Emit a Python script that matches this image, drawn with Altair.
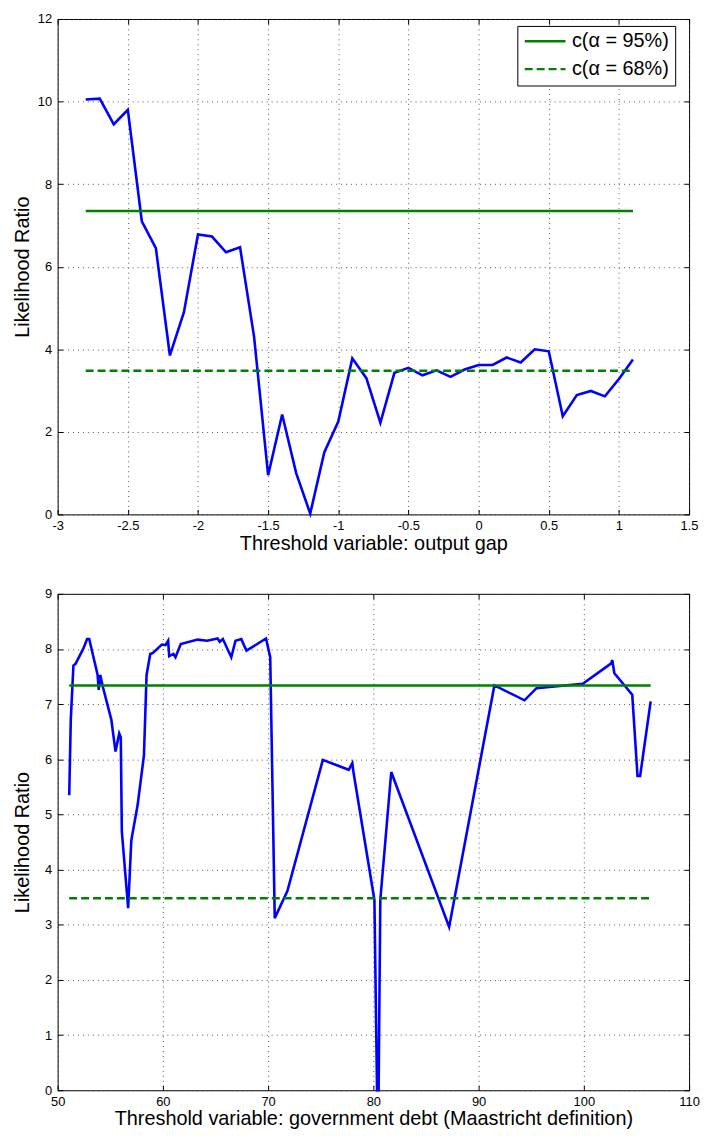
import altair as alt
import pandas as pd

# ---------------- data ----------------
gap_x = [-2.8, -2.7, -2.6, -2.5, -2.4, -2.3, -2.2, -2.1, -2.0, -1.9,
         -1.8, -1.7, -1.6, -1.5, -1.4, -1.3, -1.2, -1.1, -1.0, -0.9,
         -0.8, -0.7, -0.6, -0.5, -0.4, -0.3, -0.2, -0.1, 0.0, 0.1,
         0.2, 0.3, 0.4, 0.5, 0.6, 0.7, 0.8, 0.9, 1.0, 1.1]
gap_lr = [10.05, 10.07, 9.45, 9.8, 7.1, 6.45, 3.85, 4.9, 6.78, 6.73,
          6.35, 6.47, 4.3, 0.95, 2.42, 1.0, 0.02, 1.5, 2.25, 3.78,
          3.3, 2.22, 3.43, 3.55, 3.37, 3.49, 3.33, 3.51, 3.62, 3.62,
          3.8, 3.68, 4.0, 3.95, 2.38, 2.89, 2.99, 2.86, 3.28, 3.75]

debt_x = [51.1, 51.25, 51.5, 51.7, 52.45, 52.8, 53.0, 53.8, 53.9, 54.05,
          54.3, 55.1, 55.5, 55.85, 56.0, 56.1, 56.7, 57.0, 57.6, 58.2,
          58.45, 58.8, 59.05, 59.9, 60.25, 60.5, 60.6, 61.0, 61.2, 61.7,
          63.3, 64.2, 65.2, 65.4, 65.7, 66.5, 66.9, 67.45, 67.7, 67.95,
          69.8, 70.2, 70.63, 71.83, 75.2, 77.66, 78.0, 78.1, 80.1, 80.35,
          80.5, 80.66, 81.7, 87.2, 91.5, 94.36, 95.5, 99.9, 102.6, 102.7,
          102.9, 104.6, 105.1, 105.35, 106.35]
debt_lr = [5.35, 6.72, 7.7, 7.73, 8.01, 8.18, 8.18, 7.53, 7.26, 7.53,
           7.31, 6.72, 6.14, 6.47, 6.4, 4.69, 3.3, 4.53, 5.17, 6.07,
           7.53, 7.91, 7.93, 8.08, 8.07, 8.15, 7.87, 7.91, 7.85, 8.09,
           8.17, 8.15, 8.19, 8.13, 8.18, 7.85, 8.15, 8.18, 8.07, 7.97,
           8.19, 7.85, 3.12, 3.61, 5.99, 5.81, 5.93, 5.78, 3.45, 0.0,
           0.0, 3.45, 5.77, 2.96, 7.34, 7.07, 7.29, 7.37, 7.74, 7.8,
           7.56, 7.17, 5.7, 5.7, 7.05]

crit_labels = ["c(\u03b1 = 95%)", "c(\u03b1 = 68%)"]
gap_crit = [7.35, 3.48]
gap_span = [-2.8, 1.1]
debt_crit = [7.34, 3.48]
debt_span = [51.1, 106.35]

gap_xticks = [-3, -2.5, -2, -1.5, -1, -0.5, 0, 0.5, 1, 1.5]
gap_yticks = [0, 2, 4, 6, 8, 10, 12]
debt_xticks = [50, 60, 70, 80, 90, 100, 110]
debt_yticks = [0, 1, 2, 3, 4, 5, 6, 7, 8, 9]

FONT = "Liberation Sans"
BLUE = "#0000FF"
GREEN = "#008000"


def panel(xs, ys, crit, span, xticks, yticks, xtitle, w, h, ypad, legend):
    df = pd.DataFrame({"x": xs, "lr": ys})
    rows = []
    for lab, c in zip(crit_labels, crit):
        for sx in span:
            rows.append({"label": lab, "x": sx, "c": c})
    cdf = pd.DataFrame(rows)

    xscale = alt.Scale(domain=[xticks[0], xticks[-1]], nice=False, zero=False)
    yscale = alt.Scale(domain=[yticks[0], yticks[-1]], nice=False, zero=False)

    line = alt.Chart(df).mark_line(color=BLUE, strokeWidth=2.6).encode(
        x=alt.X("x:Q", scale=xscale,
                axis=alt.Axis(orient="bottom", values=xticks, title=xtitle, grid=True,
                              domain=False, tickSize=5, offset=-5, labelPadding=5,
                              labelFlush=False, titlePadding=1,
                              labelExpr="'' + datum.value")),
        y=alt.Y("lr:Q", scale=yscale,
                axis=alt.Axis(orient="left", values=yticks, title="Likelihood Ratio",
                              grid=True, domain=False, tickSize=5, offset=-5,
                              labelPadding=6, labelFlush=False, titlePadding=ypad,
                              labelExpr="'' + datum.value")),
    )

    dash_scale = alt.Scale(domain=crit_labels, range=[[1, 0], [8, 4]])
    if legend:
        leg = alt.Legend(title=None, orient="none", legendX=463, legendY=7,
                         symbolType="stroke", symbolSize=1681, symbolStrokeWidth=2.5,
                         labelFont=FONT, labelFontSize=20, labelColor="black",
                         labelOffset=5, padding=6, strokeColor="black",
                         fillColor="white", clipHeight=19, rowPadding=7,
                         labelLimit=300)
        color = alt.Color("label:N",
                          scale=alt.Scale(domain=crit_labels, range=[GREEN, GREEN]),
                          legend=leg)
        dash = alt.StrokeDash("label:N", scale=dash_scale, legend=leg)
    else:
        color = alt.value(GREEN)
        dash = alt.StrokeDash("label:N", scale=dash_scale, legend=None)

    crit_layer = alt.Chart(cdf).mark_line(strokeWidth=2.5).encode(
        x=alt.X("x:Q", scale=xscale,
                axis=alt.Axis(orient="top", values=xticks, labels=False, grid=False,
                              domain=False, tickSize=5, offset=-5, title=None)),
        y=alt.Y("c:Q", scale=yscale,
                axis=alt.Axis(orient="right", values=yticks, labels=False, grid=False,
                              domain=False, tickSize=5, offset=-5, title=None)),
        color=color,
        strokeDash=dash,
        detail="label:N",
    )
    return alt.layer(line, crit_layer).resolve_axis(
        x="independent", y="independent").properties(width=w, height=h)


top = panel(gap_x, gap_lr, gap_crit, gap_span, gap_xticks, gap_yticks,
            "Threshold variable: output gap", 636, 499, 5, True)
bottom = panel(debt_x, debt_lr, debt_crit, debt_span, debt_xticks, debt_yticks,
               "Threshold variable: government debt (Maastricht definition)",
               636, 500, 12, False)

chart = alt.vconcat(top, bottom, spacing=80, bounds="flush").properties(
    padding={"left": 4, "top": 0, "right": 0, "bottom": 0}
).configure_view(
    stroke="black", strokeWidth=1
).configure_axis(
    labelFont=FONT, labelFontSize=13, labelColor="black",
    titleFont=FONT, titleFontSize=20, titleFontWeight="normal", titleColor="black",
    tickColor="black", tickWidth=1,
    gridColor="#444444", gridDash=[1, 4], gridWidth=1, gridOpacity=0.9,
)

chart.save("out.html", embed_options={"renderer": "svg", "actions": False})
